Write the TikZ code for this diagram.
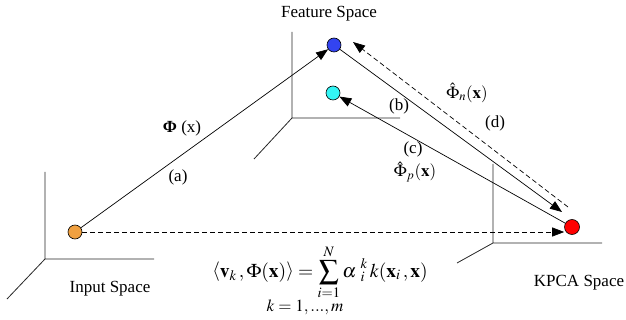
\documentclass[tikz,border=0pt]{standalone}
\usepackage{mathptmx}
\usepackage{fontspec}
\setmainfont{Liberation Serif}
\usetikzlibrary{arrows.meta,calc}
\definecolor{inputpt}{HTML}{F0A040}
\definecolor{featpt}{HTML}{3344F0}
\definecolor{projpt}{HTML}{33F5F5}
\definecolor{kpcapt}{HTML}{FF0000}

\begin{document}
\begin{tikzpicture}[x=1pt, y=-1pt, font=\fontsize{17}{20}\selectfont,
    pt/.style={circle, draw, line width=0.6pt, minimum size=14pt, inner sep=0pt},
    conn/.style={line width=0.7pt, -{Triangle[length=12pt,width=9pt]}},
    axis/.style={line width=0.8pt, black!85}]
  \useasboundingbox (0,0) rectangle (626,320);

  % the three spaces
  \foreach \ox/\oy/\top/\rx/\dx/\dy in {45/259/172/154/7/299, 292/118/32/400/254/159, 493/243/164/602/457/263} {
    \draw[axis] (\ox,\top) -- (\ox,\oy) -- (\rx,\oy) (\ox,\oy) -- (\dx,\dy);
  }
  \node[anchor=base] (featlbl) at (329,18) {Feature Space};
  \node[anchor=base] (inlbl) at (110,292) {Input Space};
  \node[anchor=base] (kpcalbl) at (579,286) {KPCA Space};

  % points
  \node[pt, fill=inputpt] (inpt) at (75,232) {};
  \node[pt, fill=featpt] (featpt) at (334,45) {};
  \node[pt, fill=projpt] (projpt) at (333,93) {};
  \node[pt, fill=kpcapt, minimum size=15pt] (kpcapt) at (572,227) {};

  % mappings
  \draw[conn] (inpt) -- (featpt);
  \draw[conn] (featpt) -- ([shift={(-10,-15)}]kpcapt.center);
  \draw[conn] (kpcapt) -- (projpt);
  \draw[conn, dash pattern=on 5pt off 3pt] ([shift={(-4,-20)}]kpcapt.center) -- ([shift={(19,-3)}]featpt.center);
  \draw[conn, dash pattern=on 5pt off 3pt] (inpt) -- (inpt -| kpcapt.west);

  \node (phi) at (182,128) {\textbf{Φ} (x)};
  \node (la) at (178,177) {(a)};
  \node (lb) at (399,106) {(b)};
  \node (lc) at (413,149) {(c)};
  \node (ld) at (495,123) {(d)};
  \node (phip) at (415,172) {$\hat{\Phi}_{p}(\mathbf{x})$};
  \node (phin) at (467,93) {$\hat{\Phi}_{n}(\mathbf{x})$};

  \node[anchor=base, font=\fontsize{19.5}{22}\selectfont] (proj) at (320,277) {$\displaystyle \left\langle \mathbf{v}_{k}\,, \Phi(\mathbf{x})\right\rangle = \sum_{i=1}^{N} \alpha\;{}_{i}^{k}\, k(\mathbf{x}_{i}\,, \mathbf{x})$};
  \node[anchor=base] (krange) at (305,311) {$k = 1,...,m$};
\end{tikzpicture}
\end{document}
